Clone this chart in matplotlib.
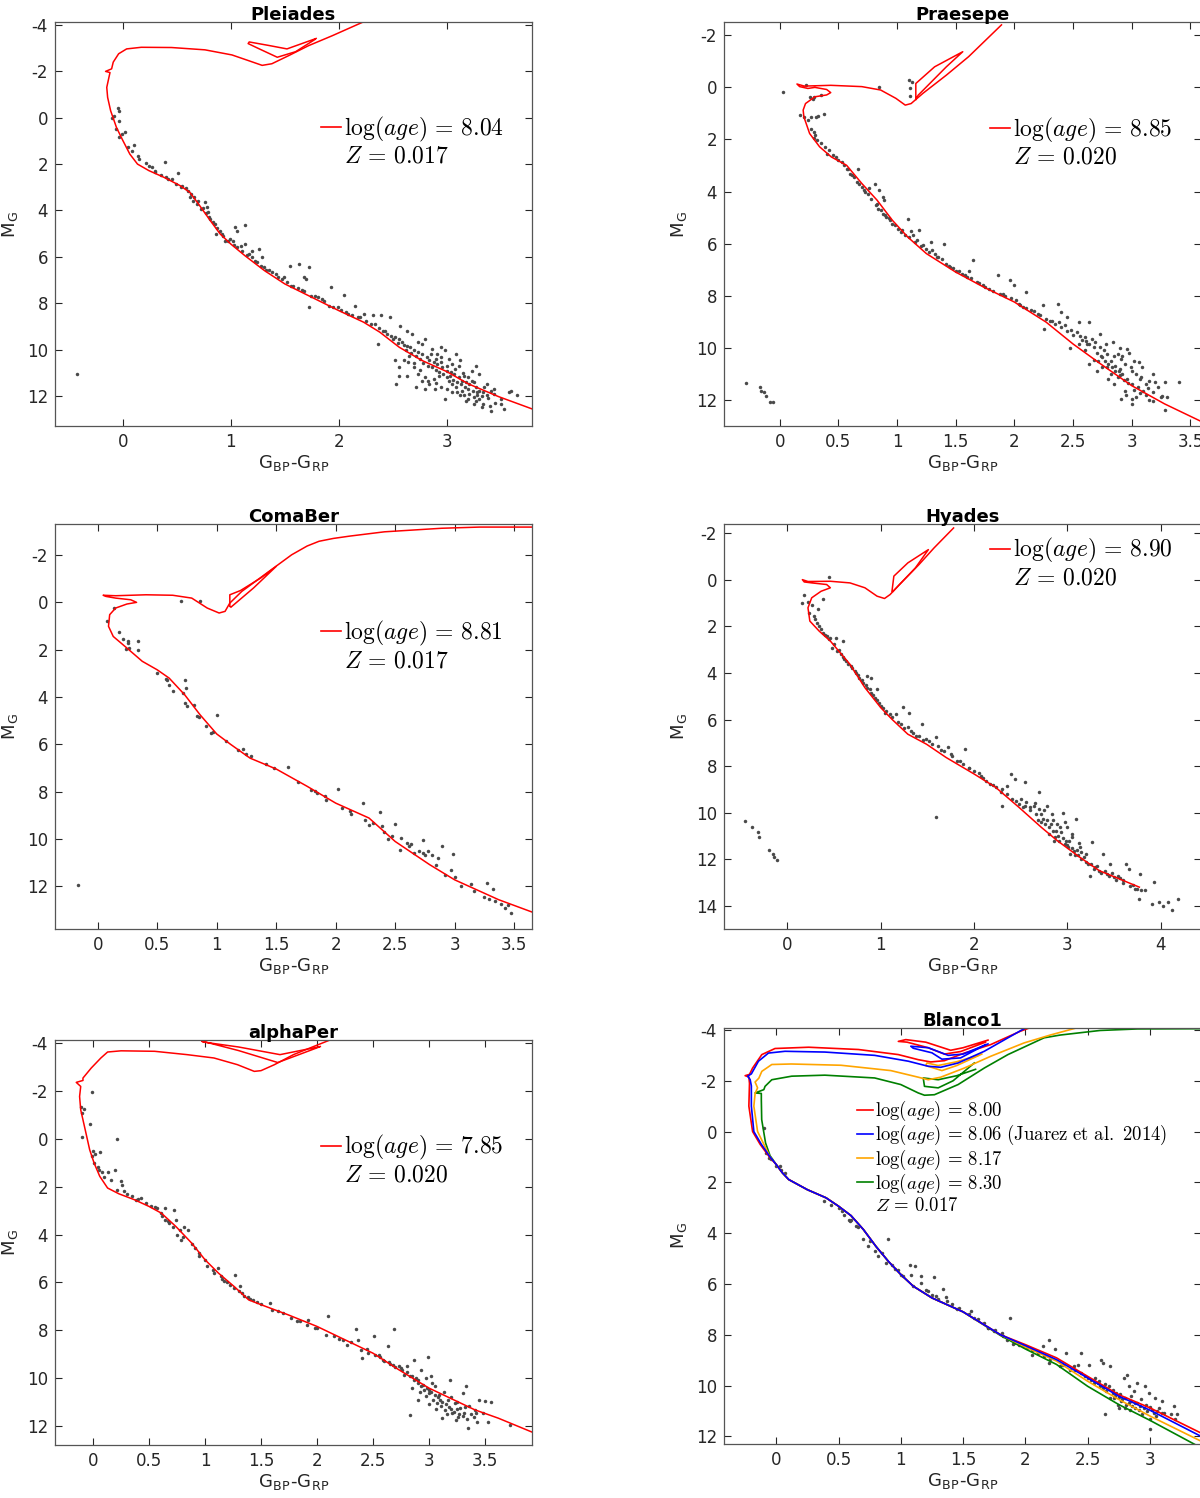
import numpy as np
import matplotlib.pyplot as plt
from matplotlib.lines import Line2D
from matplotlib.ticker import FuncFormatter

plt.rcParams['mathtext.fontset'] = 'cm'
plt.rcParams['font.family'] = ['DejaVu Sans']
plt.rcParams['axes.unicode_minus'] = False

# ---------------- Pleiades ----------------
pl_iso_x = [3.79, 3.48, 3.2, 3.0, 2.77, 2.56, 2.38, 2.23, 2.0, 1.7, 1.5, 1.31, 1.13, 1.0, 0.9, 0.81, 0.70, 0.62,
            0.53, 0.38, 0.24, 0.135, 0.064, 0.0, -0.06, -0.114, -0.142, -0.15, -0.13, -0.12, -0.161, -0.105, -0.09,
            -0.04, 0.034, 0.17, 0.45, 0.76, 1.01, 1.16, 1.29, 1.38, 1.54, 1.72, 1.94, 2.23, 2.4]
pl_iso_y = [12.56, 12.03, 11.48, 10.95, 10.47, 9.9, 9.25, 8.82, 8.32, 7.63, 7.17, 6.59, 5.95, 5.45, 5.01, 4.44, 3.72,
            3.22, 2.93, 2.57, 2.28, 2.0, 1.57, 0.99, 0.42, -0.3, -0.88, -1.31, -1.74, -1.95, -2.0, -2.11, -2.4, -2.76,
            -2.97, -3.04, -3.03, -2.93, -2.71, -2.47, -2.26, -2.33, -2.69, -3.11, -3.54, -4.14, -4.4]
pl_loop_x = [1.79, 1.52, 1.35, 1.17, 1.16, 1.25, 1.43, 1.6, 1.78]
pl_loop_y = [-3.42, -2.97, -3.12, -3.27, -3.2, -3.0, -2.61, -2.85, -3.38]
pl_stars = [
    (-0.05, -0.42), (-0.04, -0.3), (-0.08, -0.09), (-0.1, 0.01), (-0.04, 0.13), (-0.06, 0.49), (-0.01, 0.7),
    (0.02, 0.63), (-0.04, 0.85), (0.05, 1.28), (0.1, 1.16), (0.08, 1.42), (0.135, 1.64), (0.15, 1.78), (0.21, 1.97),
    (0.24, 2.1), (0.27, 2.11), (0.39, 1.93), (0.3, 2.36), (0.35, 2.47), (0.42, 2.64), (0.51, 2.4), (0.49, 2.86),
    (0.54, 3.0), (0.6, 3.15), (0.63, 3.29), (0.62, 3.43), (0.65, 3.58), (0.69, 3.72), (0.76, 3.65), (0.72, 3.94),
    (0.78, 3.87), (0.79, 4.08), (0.81, 4.37), (0.85, 4.58), (0.9, 4.87), (0.86, 5.01), (0.92, 5.01), (0.99, 5.23),
    (0.95, 5.3), (1.02, 5.3), (1.04, 4.73), (1.06, 4.87), (1.13, 4.63), (1.09, 5.52), (1.06, 5.59), (1.13, 5.45),
    (1.17, 5.88), (1.2, 6.02), (1.2, 5.73), (1.26, 5.66), (1.29, 6.02), (1.24, 6.24), (1.31, 6.45), (1.35, 6.59),
    (1.42, 6.74), (1.47, 6.95), (1.49, 6.88), (1.56, 7.24), (1.55, 6.38), (1.63, 6.31), (1.72, 6.45), (1.68, 6.88),
    (1.7, 6.95), (1.68, 7.46), (1.74, 7.67), (1.72, 8.18), (1.81, 7.74), (1.84, 7.82), (1.93, 7.31), (1.91, 8.1),
    (1.99, 8.18), (2.05, 7.63), (2.09, 8.46), (2.15, 8.1), (2.2, 8.61), (2.23, 8.46), (2.32, 8.53), (2.36, 9.76),
    (2.39, 8.49), (2.47, 8.58), (2.34, 8.89), (2.41, 9.18), (2.45, 9.32), (2.48, 9.4), (2.52, 9.47), (2.56, 9.54),
    (2.57, 8.97), (2.63, 9.18), (2.59, 9.68), (2.63, 9.83), (2.66, 9.9), (2.7, 10.04), (2.73, 10.11), (2.77, 10.19),
    (2.68, 9.32), (2.8, 9.54), (2.82, 10.33), (2.84, 10.47), (2.88, 10.55), (2.91, 10.62), (2.95, 9.9), (2.98, 10.04),
    (2.96, 10.76), (3.0, 10.91), (3.04, 10.98), (3.07, 11.05), (3.09, 10.19), (3.12, 10.47), (3.11, 11.2),
    (3.14, 11.34), (3.18, 11.41), (3.21, 11.48), (3.23, 10.91), (3.27, 11.62), (3.3, 11.77), (3.34, 11.84),
    (3.37, 11.98), (3.41, 11.77), (3.44, 11.91), (3.5, 12.13), (3.53, 12.56), (3.58, 11.84), (3.41, 12.63),
    (3.34, 12.34), (3.27, 12.2), (3.2, 12.13), (3.12, 11.98), (3.05, 11.84), (2.98, 12.13), (2.95, 11.62),
    (2.89, 11.7), (2.84, 11.48), (2.8, 11.2), (2.77, 11.34), (2.73, 11.05), (2.7, 10.76), (2.64, 10.55),
    (2.6, 10.47), (2.56, 10.76), (2.53, 11.48), (2.56, 11.12), (2.52, 10.47), (2.63, 11.12), (2.72, 11.62),
    (2.8, 11.7), (2.88, 11.26), (2.93, 11.12), (3.02, 11.34), (3.05, 11.48), (3.09, 11.62), (3.14, 11.77),
    (3.16, 11.98), (3.21, 11.91), (3.25, 12.05), (3.28, 11.98), (3.3, 12.13), (3.23, 11.34), (3.16, 11.12),
    (3.11, 10.69), (3.05, 10.62), (3.02, 10.4), (2.95, 10.33), (2.91, 10.19), (2.86, 9.97), (2.77, 9.76),
    (2.73, 9.68), (3.27, 10.69), (3.3, 11.05), (3.37, 11.48), (3.44, 11.7), (-0.43, 11.05),
    (0.3, 2.3), (0.4, 2.55), (0.45, 2.65), (0.55, 2.95), (0.58, 3.05), (0.66, 3.4), (0.7, 3.6), (0.74, 3.9),
    (0.77, 4.1), (0.8, 4.3), (0.83, 4.5), (0.87, 4.75), (0.93, 5.1), (0.97, 5.3), (1.03, 5.5), (1.1, 5.75),
    (1.15, 5.9), (1.22, 6.2), (1.28, 6.4), (1.33, 6.55), (1.38, 6.65), (1.44, 6.85), (1.52, 7.1), (1.58, 7.25),
    (1.62, 7.35), (1.66, 7.45), (1.78, 7.7), (1.86, 7.9), (1.95, 8.15), (2.02, 8.3), (2.07, 8.4), (2.12, 8.5),
    (2.18, 8.6), (2.25, 8.75), (2.3, 8.9), (2.37, 9.05), (2.43, 9.2), (2.5, 9.55), (2.55, 9.7), (2.6, 9.8),
    (2.62, 10.0), (2.67, 10.15), (2.72, 10.3), (2.75, 10.4), (2.78, 10.6), (2.83, 10.7), (2.86, 10.75), (2.9, 10.9),
    (2.93, 10.95), (2.97, 11.05), (3.0, 11.2), (3.03, 11.15), (3.06, 11.3), (3.1, 11.4), (3.13, 11.5), (3.17, 11.6),
    (3.2, 11.7), (3.24, 11.8), (3.28, 11.85), (3.33, 12.0), (3.38, 12.1), (3.45, 12.3), (3.5, 12.35), (2.85, 10.2),
    (2.9, 10.4), (2.95, 10.55), (3.0, 10.7), (3.08, 10.85), (3.15, 11.0), (3.2, 11.2), (3.25, 11.4), (3.35, 11.6),
    (2.7, 10.6), (2.65, 10.3), (2.75, 10.9), (2.83, 11.35), (2.9, 11.45), (3.0, 11.7), (3.1, 11.85), (3.18, 12.2),
    (3.25, 12.35), (3.33, 12.5), (3.6, 11.8), (3.65, 11.95), (3.4, 12.45)]

# ---------------- Praesepe ----------------
pr_iso_x = [3.59, 3.28, 3.0, 2.73, 2.5, 2.27, 2.0, 1.74, 1.5, 1.25, 1.09, 0.96, 0.83, 0.7, 0.57, 0.44, 0.34, 0.255,
            0.206, 0.2, 0.22, 0.3, 0.4, 0.435, 0.4, 0.3, 0.24, 0.17, 0.147, 0.21, 0.435, 0.7, 0.86, 0.99, 1.07, 1.12,
            1.22, 1.42, 1.61, 1.89]
pr_iso_y = [12.82, 12.15, 11.45, 10.6, 9.85, 9.01, 8.24, 7.67, 7.09, 6.38, 5.74, 5.1, 4.33, 3.69, 2.99, 2.67, 2.28,
            1.77, 1.13, 0.87, 0.62, 0.36, 0.29, 0.2, 0.08, 0.0, 0.04, -0.03, -0.13, -0.05, -0.08, -0.03, 0.1, 0.42,
            0.68, 0.62, 0.23, -0.47, -1.18, -2.4]
pr_loop_x = [1.16, 1.16, 1.32, 1.56, 1.42, 1.18, 1.16]
pr_loop_y = [0.46, -0.15, -0.79, -1.37, -0.79, 0.3, 0.46]
pr_stars = [
    (0.03, 0.19), (0.22, -0.09), (0.26, 0.38), (0.29, 0.36), (0.35, 0.29), (0.28, 0.45), (0.85, 0.0), (1.1, -0.27),
    (1.13, -0.21), (1.11, 0.04), (1.11, 0.33), (0.17, 1.06), (0.21, 1.13), (0.24, 1.26), (0.27, 1.13), (0.31, 1.13),
    (0.33, 1.09), (0.38, 1.04), (0.27, 1.58), (0.29, 1.71), (0.3, 1.83), (0.29, 1.96), (0.32, 2.03), (0.35, 2.15),
    (0.39, 2.28), (0.42, 2.41), (0.4, 2.54), (0.45, 2.6), (0.48, 2.67), (0.53, 2.86), (0.55, 2.99), (0.57, 3.12),
    (0.6, 3.31), (0.63, 3.44), (0.67, 3.15), (0.66, 3.63), (0.7, 3.82), (0.73, 4.01), (0.76, 3.88), (0.81, 3.69),
    (0.85, 3.95), (0.88, 4.21), (0.89, 4.33), (0.83, 4.46), (0.84, 4.65), (0.88, 4.85), (0.91, 4.97), (0.94, 5.08),
    (0.96, 5.23), (1.01, 5.42), (1.04, 5.49), (1.09, 5.04), (1.12, 5.51), (1.14, 5.68), (1.19, 5.49), (1.17, 5.87),
    (1.22, 6.06), (1.25, 6.19), (1.29, 5.94), (1.3, 6.26), (1.32, 6.38), (1.35, 6.51), (1.4, 6.0), (1.42, 6.77),
    (1.45, 6.9), (1.5, 7.03), (1.55, 7.15), (1.61, 7.03), (1.6, 7.28), (1.65, 6.64), (1.68, 7.47), (1.73, 7.6),
    (1.78, 7.73), (1.86, 7.22), (1.88, 7.92), (1.92, 8.0), (1.96, 7.41), (2.0, 7.6), (2.01, 8.18), (2.04, 8.31),
    (2.1, 7.86), (2.07, 8.44), (2.14, 8.56), (2.2, 8.69), (2.24, 8.37), (2.27, 8.88), (2.25, 9.27), (2.32, 8.95),
    (2.37, 8.31), (2.38, 9.01), (2.4, 8.63), (2.43, 9.14), (2.45, 8.82), (2.47, 10.0), (2.48, 9.33), (2.53, 9.4),
    (2.55, 9.01), (2.56, 9.53), (2.6, 9.59), (2.64, 9.01), (2.61, 9.72), (2.64, 9.85), (2.66, 9.65), (2.69, 9.78),
    (2.73, 9.46), (2.73, 9.97), (2.76, 10.1), (2.64, 10.62), (2.71, 10.49), (2.75, 10.36), (2.78, 9.85),
    (2.79, 10.23), (2.82, 10.49), (2.84, 9.78), (2.86, 10.68), (2.88, 10.23), (2.89, 10.87), (2.91, 10.42),
    (2.92, 11.0), (2.94, 10.62), (2.96, 10.04), (2.96, 11.19), (2.99, 10.74), (3.0, 11.38), (3.02, 10.49),
    (3.04, 11.0), (3.05, 11.51), (3.07, 11.19), (3.09, 10.74), (3.1, 11.64), (3.12, 11.38), (3.15, 11.26),
    (3.18, 11.0), (3.18, 11.71), (3.22, 11.51), (3.25, 11.9), (3.28, 11.32), (3.4, 11.32), (3.28, 12.38),
    (2.91, 11.96), (2.94, 11.64), (3.0, 12.15), (3.04, 11.9), (2.88, 11.13), (2.82, 11.0), (2.79, 10.74),
    (3.18, 12.03), (3.26, 11.83), (2.85, 10.3), (2.9, 10.8), (-0.29, 11.36), (-0.17, 11.51), (-0.16, 11.64),
    (-0.13, 11.71), (-0.12, 11.83), (-0.08, 12.06), (-0.06, 12.09),
    (0.5, 2.8), (0.58, 3.15), (0.62, 3.35), (0.68, 3.7), (0.72, 3.95), (0.75, 4.1), (0.78, 4.3), (0.82, 4.5),
    (0.86, 4.7), (0.9, 4.9), (0.93, 5.0), (0.98, 5.3), (1.03, 5.55), (1.07, 5.65), (1.1, 5.75), (1.15, 5.95),
    (1.2, 6.1), (1.27, 6.3), (1.34, 6.5), (1.38, 6.6), (1.44, 6.85), (1.48, 6.95), (1.53, 7.05), (1.58, 7.2),
    (1.63, 7.3), (1.7, 7.5), (1.75, 7.65), (1.82, 7.8), (1.9, 7.95), (1.97, 8.1), (2.05, 8.35), (2.1, 8.45),
    (2.17, 8.6), (2.22, 8.75), (2.3, 8.95), (2.35, 9.1), (2.4, 9.2), (2.45, 9.35), (2.5, 9.5), (2.58, 9.7),
    (2.62, 9.85), (2.68, 9.95), (2.7, 10.2), (2.74, 10.3), (2.77, 10.5), (2.8, 10.6), (2.83, 10.75), (2.86, 10.9),
    (2.9, 11.05), (2.93, 11.25), (2.97, 11.35), (3.02, 11.6), (3.07, 11.75), (3.12, 11.8), (3.15, 12.0),
    (2.95, 11.8), (3.0, 11.95), (2.85, 11.4), (2.8, 11.2), (2.7, 10.9), (2.75, 10.75), (2.92, 10.3), (3.0, 10.9),
    (3.08, 11.1), (3.14, 11.55), (3.2, 11.3), (3.3, 11.9), (2.6, 10.1), (2.55, 9.85), (2.68, 10.45), (2.9, 10.0),
    (2.98, 10.2), (3.06, 10.55)]

# ---------------- ComaBer ----------------
cb_iso_x = [3.65, 3.37, 3.0, 2.79, 2.5, 2.28, 2.0, 1.76, 1.5, 1.28, 1.12, 1.0, 0.86, 0.73, 0.6, 0.5, 0.374, 0.245,
            0.13, 0.09, 0.1, 0.15, 0.245, 0.326, 0.277, 0.15, 0.07, 0.045, 0.15, 0.406, 0.63, 0.79, 0.92, 1.02,
            1.07, 1.11, 1.21, 1.44, 1.63, 1.76, 1.86, 1.98, 2.12, 2.41, 2.89, 3.21, 3.7]
cb_iso_y = [13.08, 12.56, 11.72, 11.08, 10.1, 9.11, 8.48, 7.77, 7.04, 6.58, 6.01, 5.56, 4.75, 3.9, 3.2, 2.85, 2.49,
            1.93, 1.44, 1.01, 0.52, 0.24, 0.07, 0.0, -0.11, -0.18, -0.25, -0.3, -0.28, -0.32, -0.3, -0.18, 0.24,
            0.45, 0.38, 0.03, -0.46, -1.31, -2.01, -2.38, -2.58, -2.7, -2.8, -2.98, -3.13, -3.18, -3.18]
cb_loop_x = [1.11, 1.11, 1.2, 1.37, 1.5, 1.31, 1.12]
cb_loop_y = [0.17, -0.32, -0.5, -1.03, -1.52, -0.61, 0.2]
cb_stars = [
    (-0.17, 11.93), (0.08, 0.8), (0.135, 0.24), (0.7, -0.04), (0.86, -0.04), (0.18, 1.25), (0.21, 1.54),
    (0.25, 1.65), (0.255, 1.72), (0.24, 1.97), (0.26, 1.93), (0.34, 1.65), (0.34, 2.0), (0.5, 2.99), (0.57, 3.23),
    (0.58, 3.27), (0.6, 3.48), (0.63, 3.76), (0.73, 3.3), (0.74, 3.62), (0.72, 3.83), (0.73, 4.25), (0.75, 4.39),
    (0.81, 4.32), (0.83, 4.82), (0.85, 4.86), (0.91, 5.24), (0.95, 5.52), (0.97, 5.48), (1.0, 4.75), (1.08, 5.87),
    (1.18, 6.23), (1.22, 6.2), (1.25, 6.41), (1.29, 6.51), (1.41, 6.83), (1.48, 7.0), (1.6, 6.97), (1.68, 7.59),
    (1.79, 7.92), (1.83, 7.96), (1.84, 8.06), (1.91, 8.2), (1.92, 8.34), (2.02, 7.89), (2.05, 8.69), (2.12, 8.83),
    (2.13, 8.93), (2.23, 8.49), (2.25, 9.18), (2.28, 9.39), (2.31, 9.32), (2.37, 8.86), (2.39, 9.46), (2.41, 9.7),
    (2.44, 10.0), (2.47, 9.89), (2.5, 9.37), (2.55, 9.96), (2.54, 10.45), (2.6, 10.17), (2.62, 10.31),
    (2.63, 10.21), (2.66, 10.59), (2.7, 10.52), (2.73, 10.03), (2.73, 10.59), (2.75, 10.69), (2.78, 10.52),
    (2.81, 10.66), (2.86, 10.8), (2.84, 11.08), (2.89, 10.31), (2.92, 11.5), (2.97, 11.3), (2.99, 10.61),
    (3.0, 11.58), (3.05, 12.0), (3.14, 11.9), (3.16, 12.21), (3.25, 12.46), (3.27, 11.86), (3.29, 12.52),
    (3.32, 12.1), (3.34, 12.63), (3.39, 12.75), (3.42, 12.89), (3.45, 12.8), (3.47, 13.13)]

# ---------------- Hyades ----------------
hy_iso_x = [3.77, 3.34, 3.13, 2.89, 2.72, 2.48, 2.23, 2.0, 1.7, 1.49, 1.29, 1.12, 1.0, 0.83, 0.67, 0.46, 0.34, 0.24,
            0.22, 0.26, 0.36, 0.46, 0.42, 0.26, 0.18, 0.16, 0.22, 0.46, 0.67, 0.83, 0.96, 1.04, 1.1, 1.2, 1.41,
            1.57, 1.78]
hy_iso_y = [13.2, 12.49, 11.91, 11.2, 10.63, 9.77, 8.91, 8.34, 7.63, 7.06, 6.63, 5.99, 5.49, 4.63, 3.63, 2.63, 2.2,
            1.77, 1.2, 0.77, 0.49, 0.34, 0.2, 0.13, 0.09, -0.01, 0.07, 0.06, 0.13, 0.34, 0.7, 0.8, 0.63, 0.2,
            -0.66, -1.37, -2.23]
hy_loop_x = [1.12, 1.14, 1.29, 1.51, 1.37, 1.13]
hy_loop_y = [0.49, -0.16, -0.73, -1.3, -0.51, 0.5]
hy_stars = [
    (-0.45, 10.37), (-0.38, 10.63), (-0.32, 10.84), (-0.3, 11.06), (-0.2, 11.6), (-0.16, 11.77), (-0.14, 11.89),
    (-0.11, 12.03), (0.45, -0.11), (0.18, 0.66), (0.16, 0.99), (0.22, 0.94), (0.26, 1.06), (0.33, 1.23),
    (0.38, 0.84), (0.23, 1.41), (0.28, 1.56), (0.3, 1.7), (0.32, 1.84), (0.34, 1.99), (0.36, 2.13), (0.38, 2.27),
    (0.42, 2.41), (0.46, 2.49), (0.52, 2.51), (0.6, 2.63), (0.48, 2.91), (0.53, 3.06), (0.57, 3.2), (0.61, 3.41),
    (0.65, 3.63), (0.69, 3.77), (0.73, 3.99), (0.77, 4.2), (0.85, 4.13), (0.9, 4.2), (0.81, 4.41), (0.85, 4.63),
    (0.9, 4.84), (0.96, 4.7), (0.94, 5.06), (0.98, 5.27), (1.02, 5.49), (1.06, 5.63), (1.1, 5.77), (1.16, 5.77),
    (1.24, 5.44), (1.3, 5.71), (1.22, 6.2), (1.29, 6.34), (1.35, 6.56), (1.41, 6.7), (1.44, 6.2), (1.48, 6.84),
    (1.52, 6.91), (1.59, 6.77), (1.61, 7.13), (1.68, 7.34), (1.72, 7.2), (1.76, 7.56), (1.82, 7.77), (1.9, 7.27),
    (1.88, 7.91), (1.94, 8.06), (2.0, 8.2), (2.07, 8.41), (2.13, 8.63), (2.17, 8.77), (2.23, 8.91), (2.29, 9.13),
    (2.3, 9.7), (2.35, 8.84), (2.4, 8.34), (2.41, 9.41), (2.44, 8.56), (2.48, 9.63), (2.5, 9.41), (2.54, 8.7),
    (2.52, 9.77), (2.56, 9.56), (2.6, 9.77), (2.64, 9.7), (2.66, 10.06), (2.7, 9.13), (2.7, 9.84), (2.72, 10.06),
    (2.74, 10.27), (2.76, 10.49), (2.78, 9.7), (2.8, 10.63), (2.83, 10.06), (2.85, 10.77), (2.87, 11.06),
    (2.89, 10.49), (2.91, 11.2), (2.93, 10.84), (2.95, 10.0), (2.97, 11.34), (2.99, 10.63), (3.01, 11.49),
    (3.03, 11.77), (3.05, 11.06), (3.07, 11.63), (3.09, 10.27), (3.11, 11.84), (3.13, 11.49), (3.15, 12.0),
    (3.2, 11.77), (3.22, 12.2), (3.26, 11.27), (3.24, 12.7), (3.3, 12.34), (3.34, 12.49), (3.38, 11.77),
    (3.42, 12.63), (3.46, 12.2), (3.5, 12.77), (3.54, 12.7), (3.59, 12.91), (3.63, 12.2), (3.67, 13.13),
    (3.66, 12.41), (3.75, 13.27), (3.77, 13.7), (3.79, 13.34), (3.83, 13.34), (3.78, 12.63), (3.91, 13.91),
    (3.93, 12.99), (3.98, 13.84), (4.02, 13.99), (4.08, 13.84), (4.12, 14.2), (4.18, 13.7), (1.59, 10.17),
    (2.3, 9.0), (2.35, 9.2), (2.45, 9.5), (2.55, 9.7), (2.6, 9.9), (2.65, 9.6), (2.68, 10.3), (2.72, 10.4),
    (2.75, 9.9), (2.78, 10.3), (2.82, 10.5), (2.85, 10.3), (2.88, 10.8), (2.9, 11.0), (2.95, 11.1), (2.98, 11.2),
    (3.0, 11.4), (3.02, 11.2), (3.05, 11.5), (3.08, 11.8), (3.1, 11.6), (3.15, 11.7), (3.18, 11.9), (3.2, 12.1),
    (3.25, 12.2), (3.28, 12.4), (3.32, 12.3), (3.36, 12.6), (3.4, 12.5), (3.44, 12.7), (3.48, 12.6), (3.52, 12.9),
    (3.56, 12.8), (3.6, 13.0), (3.7, 13.1), (3.72, 13.3), (1.0, 5.4), (1.05, 5.7), (1.12, 5.9), (1.18, 6.1),
    (1.25, 6.35), (1.32, 6.5), (1.38, 6.7), (1.45, 6.9), (1.55, 7.05), (1.65, 7.3), (1.75, 7.5), (1.85, 7.8),
    (1.95, 8.1), (2.05, 8.3), (2.1, 8.5), (2.2, 8.8), (0.55, 3.0), (0.6, 3.3), (0.63, 3.5), (0.68, 3.7), (0.72, 3.9),
    (0.76, 4.1), (0.8, 4.3), (0.84, 4.5), (0.88, 4.7), (0.92, 4.95), (0.96, 5.15), (0.4, 2.35), (0.44, 2.55),
    (0.5, 2.75), (2.92, 10.6), (2.97, 10.4), (3.05, 10.9), (3.12, 11.3), (2.8, 10.9), (2.86, 11.2)]

# ---------------- alphaPer ----------------
ap_iso_x = [3.92, 3.62, 3.41, 3.0, 2.73, 2.5, 2.25, 2.0, 1.74, 1.5, 1.39, 1.26, 1.12, 1.0, 0.88, 0.74, 0.61, 0.5,
            0.37, 0.23, 0.13, 0.06, 0.01, -0.03, -0.07, -0.11, -0.12, -0.11, -0.15, -0.09, -0.09, -0.016, 0.07,
            0.13, 0.25, 0.55, 0.84, 1.08, 1.29, 1.44, 1.5, 1.62, 1.79, 1.97, 2.12, 2.2]
ap_iso_y = [12.26, 11.68, 11.33, 10.42, 9.65, 8.96, 8.4, 7.84, 7.35, 6.93, 6.73, 6.17, 5.61, 5.05, 4.35, 3.66, 3.1,
            2.82, 2.54, 2.29, 2.05, 1.56, 1.01, 0.45, -0.39, -1.22, -1.78, -2.2, -2.37, -2.45, -2.55, -2.97, -3.39,
            -3.64, -3.69, -3.67, -3.53, -3.39, -3.11, -2.83, -2.86, -3.11, -3.53, -3.87, -4.15, -4.3]
ap_loop_x = [2.03, 1.67, 1.3, 0.98, 0.97, 1.3, 1.65, 1.85, 2.02]
ap_loop_y = [-3.87, -3.53, -3.85, -4.06, -4.1, -3.7, -3.2, -3.55, -3.85]
ap_stars = [
    (-0.01, -1.96), (-0.11, -1.34), (-0.08, -1.27), (-0.1, -1.09), (-0.03, -0.64), (-0.1, -0.07), (0.21, 0.0),
    (0.0, 0.52), (0.02, 0.62), (0.06, 0.56), (-0.01, 0.73), (0.01, 1.01), (0.04, 1.15), (0.08, 1.36), (0.13, 1.36),
    (0.16, 1.7), (0.2, 1.29), (0.25, 1.77), (0.26, 1.91), (0.21, 2.12), (0.28, 2.19), (0.35, 2.4), (0.38, 2.54),
    (0.43, 2.47), (0.47, 2.68), (0.52, 2.82), (0.57, 2.89), (0.64, 2.89), (0.61, 3.1), (0.64, 3.38), (0.67, 3.45),
    (0.72, 2.96), (0.74, 3.38), (0.71, 3.66), (0.78, 3.8), (0.81, 3.66), (0.85, 3.8), (0.75, 4.01), (0.79, 4.21),
    (0.91, 4.56), (0.95, 4.77), (1.0, 5.05), (1.02, 5.33), (1.07, 5.47), (1.12, 5.4), (1.14, 5.75), (1.17, 5.96),
    (1.22, 6.1), (1.27, 5.68), (1.26, 6.24), (1.31, 6.17), (1.33, 6.45), (1.38, 6.59), (1.43, 6.73), (1.46, 6.8),
    (1.58, 6.87), (1.6, 7.14), (1.7, 7.28), (1.77, 7.49), (1.82, 7.63), (1.92, 7.59), (1.91, 7.77), (1.98, 7.91),
    (2.1, 7.39), (2.08, 8.19), (2.15, 8.26), (2.23, 8.4), (2.27, 8.61), (2.35, 7.94), (2.37, 8.4), (2.39, 8.82),
    (2.4, 9.17), (2.46, 8.96), (2.51, 8.26), (2.52, 9.03), (2.56, 9.1), (2.59, 9.24), (2.63, 8.68), (2.64, 9.31),
    (2.69, 7.94), (2.68, 9.45), (2.73, 9.51), (2.76, 9.65), (2.78, 9.86), (2.83, 11.54), (2.8, 9.51), (2.83, 9.93),
    (2.87, 10.07), (2.87, 9.24), (2.9, 10.21), (2.9, 10.91), (2.93, 9.65), (2.93, 10.35), (2.96, 10.49),
    (2.99, 9.1), (2.97, 10.77), (3.0, 10.63), (3.02, 9.93), (3.04, 10.91), (3.05, 10.35), (3.07, 11.05),
    (3.09, 10.7), (3.11, 11.19), (3.12, 11.68), (3.14, 11.33), (3.17, 10.91), (3.19, 10.07), (3.21, 11.47),
    (3.23, 11.05), (3.24, 11.75), (3.26, 11.61), (3.28, 11.26), (3.3, 10.63), (3.31, 11.47), (3.33, 10.35),
    (3.35, 12.09), (3.36, 11.19), (3.4, 11.61), (3.41, 11.33), (3.43, 11.82), (3.45, 10.93), (3.48, 11.47),
    (3.5, 10.96), (3.53, 11.82), (3.55, 11.0), (3.72, 11.96),
    (2.6, 9.3), (2.65, 9.4), (2.7, 9.55), (2.75, 9.6), (2.8, 9.75), (2.85, 9.9), (2.88, 10.0), (2.9, 10.1),
    (2.95, 10.3), (2.98, 10.4), (3.0, 10.5), (3.02, 10.6), (3.05, 10.7), (3.08, 10.8), (3.1, 10.9), (3.12, 11.0),
    (3.15, 11.1), (3.18, 11.2), (3.2, 11.3), (3.22, 11.4), (3.25, 11.3), (3.27, 11.5), (3.3, 11.6), (3.32, 11.2),
    (3.34, 11.7), (3.38, 11.5), (3.42, 11.45), (2.92, 10.6), (2.97, 10.0), (3.03, 10.2), (3.06, 11.3), (3.13, 10.6),
    (3.16, 11.5), (3.2, 10.8), (3.25, 11.0), (2.85, 10.4), (3.0, 11.1), (1.08, 5.6), (1.15, 5.85), (1.2, 6.0),
    (1.3, 6.35), (1.35, 6.55), (1.4, 6.7), (1.5, 6.9), (1.65, 7.2), (1.85, 7.6), (2.0, 7.9), (2.2, 8.35),
    (2.3, 8.5), (2.45, 8.8), (2.55, 9.05), (0.3, 2.3), (0.4, 2.5), (0.55, 2.85), (0.62, 3.2), (0.68, 3.5),
    (0.8, 4.1), (0.88, 4.4), (0.95, 4.9), (0.1, 1.6), (0.05, 1.3)]

# ---------------- Blanco1 ----------------
# shared main-sequence section of all four isochrones
bl_ms_x = [1.5, 1.25, 1.1, 1.0, 0.9, 0.8, 0.7, 0.6, 0.5, 0.4, 0.25, 0.1, 0.05, 0.0]
bl_ms_y = [7.1, 6.55, 6.09, 5.63, 5.11, 4.52, 3.86, 3.31, 2.94, 2.61, 2.29, 1.89, 1.63, 1.3]
bl_ages = ['8.00', '8.06', '8.17', '8.30']
bl_low_x = {
    '8.00': [3.41, 3.0, 2.75, 2.5, 2.25, 2.0, 1.8],
    '8.06': [3.41, 3.0, 2.75, 2.5, 2.25, 2.0, 1.8],
    '8.17': [3.41, 3.0, 2.75, 2.5, 2.25, 2.0, 1.8],
    '8.30': [3.41, 3.0, 2.75, 2.5, 2.25, 2.0, 1.8]}
bl_low_y = {
    '8.00': [11.87, 10.88, 10.36, 9.64, 8.91, 8.39, 8.0],
    '8.06': [12.0, 10.97, 10.42, 9.7, 8.98, 8.43, 8.0],
    '8.17': [12.19, 11.2, 10.55, 9.83, 9.04, 8.48, 8.0],
    '8.30': [12.45, 11.37, 10.75, 10.03, 9.17, 8.56, 8.03]}
bl_up_x = {
    '8.00': [-0.055, -0.13, -0.19, -0.22, -0.215, -0.22, -0.25, -0.215, -0.19, -0.116, -0.01, 0.26, 0.66, 0.98,
             1.14, 1.24, 1.35, 1.51, 1.72, 1.96, 2.1],
    '8.06': [-0.05, -0.12, -0.18, -0.2, -0.2, -0.21, -0.23, -0.2, -0.143, -0.063, 0.07, 0.39, 0.79, 1.06, 1.22,
             1.32, 1.46, 1.67, 1.86, 1.99, 2.05],
    '8.17': [-0.05, -0.1, -0.15, -0.18, -0.17, -0.15, -0.17, -0.14, -0.116, -0.036, 0.12, 0.52, 0.92, 1.14, 1.22,
             1.32, 1.51, 1.72, 1.99, 2.2, 2.41, 2.5],
    '8.30': [-0.05, -0.086, -0.117, -0.12, -0.12, -0.17, -0.10, -0.09, -0.036, 0.124, 0.39, 0.79, 1.0, 1.14,
             1.19, 1.27, 1.46, 1.67, 1.86, 2.15, 2.28, 2.6, 2.9, 3.45]}
bl_up_y = {
    '8.00': [1.0, 0.5, 0.0, -1.0, -1.9, -2.15, -2.2, -2.25, -2.5, -3.03, -3.27, -3.32, -3.23, -3.03, -2.83, -2.74,
             -2.79, -3.09, -3.42, -3.95, -4.2],
    '8.06': [1.0, 0.5, 0.0, -1.0, -1.8, -2.05, -2.18, -2.27, -2.77, -3.09, -3.16, -3.13, -3.0, -2.77, -2.57,
             -2.53, -2.7, -3.16, -3.69, -4.05, -4.2],
    '8.17': [1.0, 0.5, 0.0, -1.0, -1.5, -1.72, -1.95, -2.1, -2.37, -2.64, -2.66, -2.61, -2.4, -2.14, -2.04, -2.14,
             -2.5, -2.96, -3.49, -3.8, -4.08, -4.2],
    '8.30': [0.95, 0.45, -0.47, -1.26, -1.5, -1.52, -1.65, -1.78, -2.04, -2.18, -2.22, -2.11, -1.85, -1.52,
             -1.43, -1.45, -1.85, -2.5, -3.03, -3.69, -3.8, -3.98, -4.04, -4.05]}
bl_loop_x = {
    '8.00': [1.70, 1.50, 1.40, 1.20, 1.04, 0.98, 1.05, 1.22, 1.35, 1.48, 1.68],
    '8.06': [1.70, 1.50, 1.38, 1.22, 1.08, 1.10, 1.25, 1.33, 1.48, 1.68],
    '8.17': [1.65, 1.45, 1.33, 1.2, 1.21, 1.3, 1.45, 1.62],
    '8.30': [1.59, 1.42, 1.30, 1.19, 1.18, 1.30, 1.45, 1.60]}
bl_loop_y = {
    '8.00': [-3.60, -3.30, -3.20, -3.52, -3.62, -3.55, -3.52, -3.30, -3.05, -3.15, -3.52],
    '8.06': [-3.45, -3.05, -3.0, -3.3, -3.36, -3.28, -3.1, -2.85, -2.9, -3.42],
    '8.17': [-3.05, -2.6, -2.4, -2.6, -2.7, -2.6, -2.75, -3.0],
    '8.30': [-2.7, -2.0, -1.72, -1.78, -2.11, -2.04, -2.2, -2.45]}
bl_colors = {'8.00': '#ff0000', '8.06': '#0000ff', '8.17': '#ffa500', '8.30': '#008000'}
bl_labels = {'8.00': r'$\log(age)\,=\,8.00$',
             '8.06': r'$\log(age)\,=\,8.06\ \mathrm{(Juarez\ et\ al.\ 2014)}$',
             '8.17': r'$\log(age)\,=\,8.17$',
             '8.30': r'$\log(age)\,=\,8.30$'}
bl_stars = [
    (-0.1, -0.14), (-0.08, 0.84), (-0.055, 1.04), (-0.04, 1.1), (0.0, 1.37), (0.03, 1.37), (0.07, 1.63),
    (0.04, 1.5), (0.38, 2.75), (0.44, 2.88), (0.53, 3.14), (0.54, 3.27), (0.58, 3.47), (0.59, 3.53), (0.64, 3.73),
    (0.7, 4.25), (0.74, 4.52), (0.79, 4.71), (0.82, 4.91), (0.9, 4.25), (0.88, 5.17), (0.93, 5.24), (0.98, 5.44),
    (1.02, 5.7), (1.07, 5.24), (1.11, 5.3), (1.08, 5.63), (1.16, 5.7), (1.16, 5.96), (1.2, 6.22), (1.22, 6.29),
    (1.27, 5.72), (1.28, 6.49), (1.34, 6.2), (1.36, 6.51), (1.37, 6.68), (1.41, 6.81), (1.47, 6.94), (1.56, 7.08),
    (1.59, 7.34), (1.62, 7.4), (1.67, 7.54), (1.7, 7.73), (1.76, 7.8), (1.81, 7.93), (1.88, 7.34), (1.82, 8.06),
    (1.85, 8.19), (1.91, 8.32), (1.98, 8.45), (2.01, 8.52), (2.05, 8.78), (2.1, 8.72), (2.14, 8.45), (2.19, 8.19),
    (2.19, 9.11), (2.24, 8.58), (2.28, 9.24), (2.33, 8.72), (2.36, 9.37), (2.39, 9.24), (2.42, 9.18), (2.45, 8.72),
    (2.45, 9.5), (2.48, 9.64), (2.51, 9.18), (2.53, 9.77), (2.56, 9.7), (2.59, 9.83), (2.61, 8.98), (2.62, 9.11),
    (2.64, 9.96), (2.64, 11.14), (2.67, 10.03), (2.68, 9.24), (2.7, 10.16), (2.71, 10.49), (2.73, 10.29),
    (2.74, 10.75), (2.76, 10.34), (2.78, 10.55), (2.79, 9.7), (2.81, 10.75), (2.82, 9.57), (2.83, 10.03),
    (2.84, 10.95), (2.85, 10.42), (2.87, 10.22), (2.88, 10.68), (2.9, 9.91), (2.91, 10.95), (2.93, 10.55),
    (2.94, 11.14), (2.96, 10.01), (2.97, 10.75), (2.99, 10.29), (3.0, 11.73), (3.02, 10.95), (3.04, 10.49),
    (3.05, 11.22), (3.07, 10.9), (3.1, 10.62), (3.11, 11.08), (3.17, 11.14), (3.19, 10.81), (3.22, 11.14),
    (2.7, 10.3), (2.72, 10.4), (2.75, 10.45), (2.77, 10.6), (2.8, 10.5), (2.83, 10.7), (2.86, 10.8), (2.88, 10.9),
    (2.9, 10.7), (2.92, 10.8), (2.95, 10.9), (2.98, 11.0), (3.0, 10.85), (3.03, 11.1), (3.06, 11.0), (2.6, 10.0),
    (2.62, 10.1), (2.65, 10.2), (2.68, 10.5), (2.5, 9.7), (2.55, 9.9), (2.58, 9.9), (2.85, 10.6), (2.8, 10.9),
    (2.75, 10.9), (1.9, 8.35), (1.95, 8.4), (2.05, 8.6), (2.1, 8.7), (2.15, 8.85), (2.2, 8.95), (2.3, 9.2),
    (2.4, 9.4), (1.75, 7.85), (1.7, 7.75), (1.55, 7.2), (1.45, 7.0), (1.3, 6.6), (1.25, 6.45), (1.1, 6.1),
    (1.0, 5.65), (0.95, 5.4), (0.85, 4.8), (0.75, 4.3), (0.66, 3.75), (0.6, 3.5), (0.5, 3.0), (3.0, 11.3),
    (3.1, 11.1), (3.2, 11.3)]

ISO_RED = '#ff0000'
STAR_COL = '#4a4a4a'
AX_COL = '#262626'


def style_axes(ax, title, xlim, ylim, xticks, yticks):
    ax.set_xlim(xlim)
    ax.set_ylim(ylim)
    ax.set_xticks(xticks)
    ax.set_yticks(yticks)
    ax.xaxis.set_major_formatter(FuncFormatter(lambda v, p: '%g' % v))
    ax.yaxis.set_major_formatter(FuncFormatter(lambda v, p: '%g' % v))
    ax.tick_params(direction='in', top=True, right=True, length=5, width=0.8,
                   labelsize=12, colors=AX_COL, pad=5)
    for s in ax.spines.values():
        s.set_color('#555555')
        s.set_linewidth(0.9)
    ax.set_title(title, fontsize=13, fontweight='bold', pad=1.5)
    ax.set_xlabel(r'G$_{\mathregular{BP}}$-G$_{\mathregular{RP}}$', fontsize=13, color=AX_COL, labelpad=2)
    ax.set_ylabel(r'M$_{\mathregular{G}}$', fontsize=13, color=AX_COL, labelpad=4)


def plot_stars(ax, stars):
    sx, sy = np.array(stars).T
    ax.plot(sx, sy, 'o', color=STAR_COL, ms=2.5, mew=0, zorder=1)


def add_legend(ax, colors, labels, zlabel, anchor, size):
    handles = [Line2D([], [], color=c, lw=1.2) for c in colors] + [Line2D([], [], color='none')]
    ax.legend(handles, labels + [zlabel], loc='center left', bbox_to_anchor=anchor, frameon=False,
              fontsize=size, handlelength=0.85, handletextpad=0.12, labelspacing=0.0,
              borderpad=0, borderaxespad=0)


fig = plt.figure(figsize=(12, 14.98), dpi=100)
LX, RX, W = 0.0458, 0.6033, 0.3975
ax_pl = fig.add_axes([LX, 0.7156, W, 0.2697])
ax_pr = fig.add_axes([RX, 0.7156, W, 0.2697])
ax_cb = fig.add_axes([LX, 0.3798, W, 0.2704])
ax_hy = fig.add_axes([RX, 0.3798, W, 0.2704])
ax_ap = fig.add_axes([LX, 0.0354, W, 0.2703])
ax_bl = fig.add_axes([RX, 0.0361, W, 0.2777])

# Pleiades
plot_stars(ax_pl, pl_stars)
ax_pl.plot(pl_iso_x, pl_iso_y, color=ISO_RED, lw=1.1)
ax_pl.plot(pl_loop_x, pl_loop_y, color=ISO_RED, lw=1.1)
style_axes(ax_pl, 'Pleiades', (-0.63, 3.79), (13.3, -4.13), [0, 1, 2, 3], np.arange(-4, 13, 2))
add_legend(ax_pl, [ISO_RED], [r'$\log(age)\,=\,8.04$'], r'$Z\,=\,0.017$', (0.558, 0.705), 17)

# Praesepe
plot_stars(ax_pr, pr_stars)
ax_pr.plot(pr_iso_x, pr_iso_y, color=ISO_RED, lw=1.1)
ax_pr.plot(pr_loop_x, pr_loop_y, color=ISO_RED, lw=1.1)
style_axes(ax_pr, 'Praesepe', (-0.475, 3.59), (13.0, -2.51), np.arange(0, 3.6, 0.5), np.arange(-2, 13, 2))
add_legend(ax_pr, [ISO_RED], [r'$\log(age)\,=\,8.85$'], r'$Z\,=\,0.020$', (0.558, 0.703), 17)

# ComaBer
plot_stars(ax_cb, cb_stars)
ax_cb.plot(cb_iso_x, cb_iso_y, color=ISO_RED, lw=1.1)
ax_cb.plot(cb_loop_x, cb_loop_y, color=ISO_RED, lw=1.1)
style_axes(ax_cb, 'ComaBer', (-0.36, 3.65), (13.8, -3.31), np.arange(0, 3.6, 0.5), np.arange(-2, 13, 2))
add_legend(ax_cb, [ISO_RED], [r'$\log(age)\,=\,8.81$'], r'$Z\,=\,0.017$', (0.558, 0.70), 17)

# Hyades
plot_stars(ax_hy, hy_stars)
ax_hy.plot(hy_iso_x, hy_iso_y, color=ISO_RED, lw=1.1)
ax_hy.plot(hy_loop_x, hy_loop_y, color=ISO_RED, lw=1.1)
style_axes(ax_hy, 'Hyades', (-0.68, 4.43), (15.0, -2.4), [0, 1, 2, 3, 4], np.arange(-2, 15, 2))
add_legend(ax_hy, [ISO_RED], [r'$\log(age)\,=\,8.90$'], r'$Z\,=\,0.020$', (0.558, 0.904), 17)

# alphaPer
plot_stars(ax_ap, ap_stars)
ax_ap.plot(ap_iso_x, ap_iso_y, color=ISO_RED, lw=1.1)
ax_ap.plot(ap_loop_x, ap_loop_y, color=ISO_RED, lw=1.1)
style_axes(ax_ap, 'alphaPer', (-0.34, 3.92), (12.8, -4.14), np.arange(0, 3.6, 0.5), np.arange(-4, 13, 2))
add_legend(ax_ap, [ISO_RED], [r'$\log(age)\,=\,7.85$'], r'$Z\,=\,0.020$', (0.558, 0.704), 17)

# Blanco1
plot_stars(ax_bl, bl_stars)
for age in ['8.30', '8.17', '8.00', '8.06']:
    xs = bl_low_x[age] + bl_ms_x + bl_up_x[age]
    ys = bl_low_y[age] + bl_ms_y + bl_up_y[age]
    ax_bl.plot(xs, ys, color=bl_colors[age], lw=1.2)
    ax_bl.plot(bl_loop_x[age], bl_loop_y[age], color=bl_colors[age], lw=1.2)
style_axes(ax_bl, 'Blanco1', (-0.42, 3.41), (12.3, -4.08), np.arange(0, 3.1, 0.5), np.arange(-4, 13, 2))
add_legend(ax_bl, [bl_colors[a] for a in bl_ages], [bl_labels[a] for a in bl_ages], r'$Z\,=\,0.017$',
           (0.278, 0.69), 13.5)

fig.savefig('out.png', dpi=100)
